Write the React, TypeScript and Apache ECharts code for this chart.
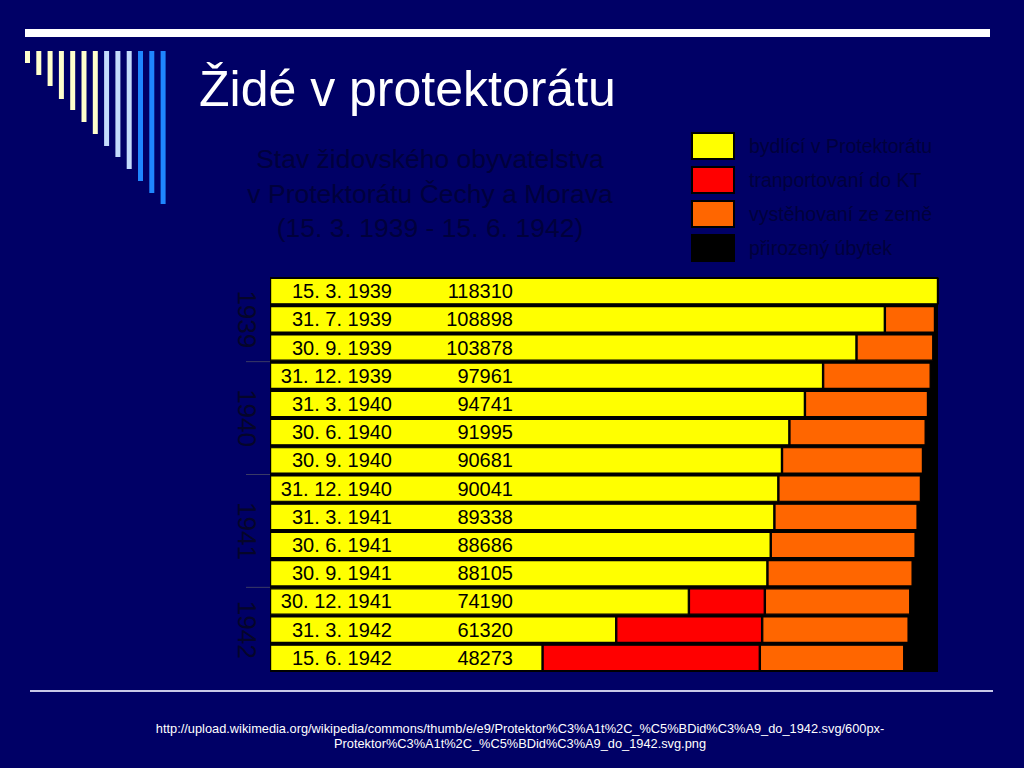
import React, { useEffect, useRef } from "react";
import * as echarts from "echarts";

const dates = ["15. 3. 1939", "31. 7. 1939", "30. 9. 1939", "31. 12. 1939", "31. 3. 1940", "30. 6. 1940", "30. 9. 1940", "31. 12. 1940", "31. 3. 1941", "30. 6. 1941", "30. 9. 1941", "30. 12. 1941", "31. 3. 1942", "15. 6. 1942"];
const resident = [118310, 108898, 103878, 97961, 94741, 91995, 90681, 90041, 89338, 88686, 88105, 74190, 61320, 48273];
const transported = [0, 0, 0, 0, 0, 0, 0, 0, 0, 0, 0, 13450, 25850, 38480];
const emigrated = [0, 8880, 13600, 19060, 21800, 24140, 24970, 25250, 25360, 25660, 25720, 25760, 25940, 25580];
const naturalLoss = [0, 530, 830, 1290, 1770, 2180, 2660, 3020, 3610, 3960, 4490, 4910, 5200, 5980];
const seriesNames = ["bydlící v Protektorátu", "tranportovaní do KT", "vystěhovaní ze země", "přirozený úbytek"];
const seriesColors = ["#ffff00", "#ff0000", "#ff6600", "#000000"];
const years = ["1939", "1940", "1941", "1942"];
const yearFirstRow = [0, 3, 7, 11];
const yearLastRow = [2, 6, 10, 13];
const totalPopulation = 118310;

const pageTitle = "Židé v protektorátu";
const chartTitle = "Stav židovského obyvatelstva\nv Protektorátu Čechy a Morava\n(15. 3. 1939 - 15. 6. 1942)";
const sourceText = "http://upload.wikimedia.org/wikipedia/commons/thumb/e/e9/Protektor%C3%A1t%2C_%C5%BDid%C3%A9_do_1942.svg/600px-\nProtektor%C3%A1t%2C_%C5%BDid%C3%A9_do_1942.svg.png";

const decoBottoms = [63, 75, 86, 99, 110, 122, 134, 146, 157, 169, 181, 193, 204];
const decoColors = ["#ffffcc", "#ffffcc", "#ffffcc", "#ffffcc", "#ffffcc", "#ffffcc", "#ffffcc", "#c4dcfc", "#c4dcfc", "#c4dcfc", "#1f86ff", "#1f86ff", "#1f86ff"];

const FONT = "'Liberation Sans', Arial, sans-serif";
const DARK = "#00003c";

export default function App() {
  const ref = useRef<HTMLDivElement>(null);
  useEffect(() => {
    document.body.style.margin = "0";
    const chart = echarts.init(ref.current!, null, { renderer: "svg" });
    const data = [resident, transported, emigrated, naturalLoss];
    chart.setOption({
      animation: false,
      backgroundColor: "#000066",
      title: {
        text: chartTitle,
        left: 425,
        top: 137,
        textAlign: "center",
        textStyle: { color: DARK, fontSize: 26.5, fontWeight: "normal", fontFamily: FONT, lineHeight: 34.5 },
      },
      legend: {
        data: seriesNames,
        orient: "vertical",
        left: 691,
        top: 132,
        padding: 0,
        itemWidth: 42,
        itemHeight: 26,
        itemGap: 6,
        icon: "rect",
        selectedMode: false,
        textStyle: { color: DARK, fontSize: 19.5, fontFamily: FONT, padding: [0, 0, 0, 10] },
      },
      grid: {
        left: 270,
        width: 668,
        top: 277,
        height: 395,
        show: true,
        backgroundColor: "#000000",
        borderWidth: 0,
      },
      xAxis: { type: "value", min: 0, max: totalPopulation, show: false },
      yAxis: {
        type: "category",
        inverse: true,
        data: dates,
        z: 10,
        axisLine: { show: false },
        axisTick: { show: false },
        splitLine: { show: false },
        axisLabel: {
          inside: true,
          margin: 0,
          formatter: (v: string, i: number) => `{d|${v}}{n|${resident[i]}}`,
          rich: {
            d: { width: 122, align: "right", fontSize: 20, color: "#000", fontFamily: FONT },
            n: { width: 121, align: "right", fontSize: 20, color: "#000", fontFamily: FONT },
          },
        },
      },
      series: seriesNames.map((name, k) => ({
        name,
        type: "bar",
        stack: "total",
        data: data[k],
        barCategoryGap: "6%",
        itemStyle: { color: seriesColors[k], borderColor: "#000", borderWidth: 1.2 },
      })),
    });

    const rowY = (i: number) => chart.convertToPixel({ yAxisIndex: 0 }, i) as number;
    const half = (rowY(1) - rowY(0)) / 2;
    const graphics: any[] = [];
    graphics.push({ type: "rect", shape: { x: 25, y: 29, width: 965, height: 8 }, style: { fill: "#ffffff" } });
    decoBottoms.forEach((b, i) => {
      graphics.push({ type: "rect", shape: { x: 25 + i * 11.3, y: 51, width: 5, height: b - 51 }, style: { fill: decoColors[i] } });
    });
    graphics.push({
      type: "text", x: 199, y: 89,
      style: { text: pageTitle, fill: "#ffffff", fontSize: 50, fontFamily: FONT, verticalAlign: "middle", align: "left" },
    });
    graphics.push({ type: "rect", shape: { x: 30, y: 690, width: 963, height: 2 }, style: { fill: "#c8c8e8" } });
    graphics.push({
      type: "text", x: 520, y: 736,
      style: { text: sourceText, fill: "#ffffff", fontSize: 12.8, lineHeight: 15, fontFamily: FONT, align: "center", verticalAlign: "middle" },
    });
    years.forEach((yr, g) => {
      const cy = (rowY(yearFirstRow[g]) + rowY(yearLastRow[g])) / 2;
      graphics.push({
        type: "text", x: 247, y: cy, rotation: -Math.PI / 2,
        style: { text: yr, fill: "#05052a", fontSize: 26, fontFamily: FONT, align: "center", verticalAlign: "middle" },
      });
      if (g > 0) {
        const by = rowY(yearFirstRow[g]) - half;
        graphics.push({ type: "line", shape: { x1: 246, y1: by, x2: 270, y2: by }, style: { stroke: "#3a3a66", lineWidth: 1 } });
      }
    });
    chart.setOption({ graphic: graphics });
    return () => chart.dispose();
  }, []);
  return <div ref={ref} style={{ width: 1024, height: 768 }} />;
}
